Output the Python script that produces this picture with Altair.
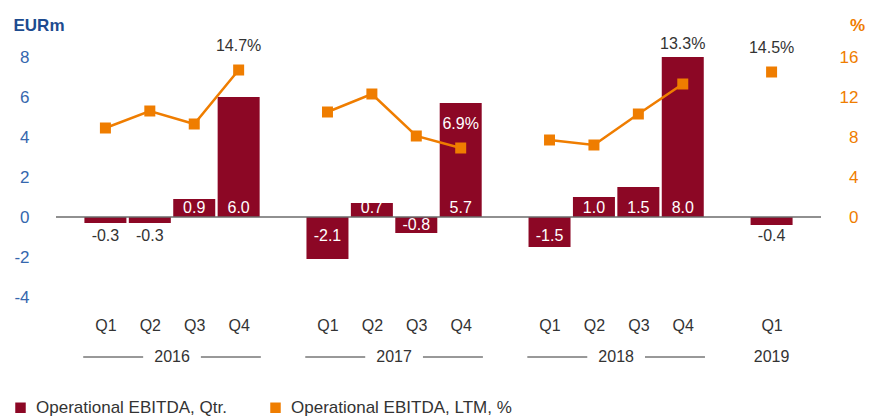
import altair as alt
import pandas as pd

# ---- data ----
years = ["2016", "2017", "2018", "2019"]
quarters = ["Q1", "Q2", "Q3", "Q4"]
quarters_per_year = [4, 4, 4, 1]
ebitda_qtr = [-0.3, -0.3, 0.9, 6.0, -2.1, 0.7, -0.8, 5.7, -1.5, 1.0, 1.5, 8.0, -0.4]
ebitda_ltm = [8.9, 10.6, 9.3, 14.7, 10.5, 12.3, 8.1, 6.9, 7.7, 7.2, 10.3, 13.3, 14.5]
ltm_labels = ["", "", "", "14.7%", "", "", "", "6.9%", "", "", "", "13.3%", "14.5%"]
left_ticks = [-4, -2, 0, 2, 4, 6, 8]
right_ticks = [0, 4, 8, 12, 16]
series_names = ["Operational EBITDA, Qtr.", "Operational EBITDA, LTM, %"]

BAR = "#8C0725"
ORANGE = "#EF7D00"
BLUE = "#3567AE"
DARKBLUE = "#1D4B8F"
TXT = "#333333"
FONT = "Liberation Sans"

W, H = 765, 240

rows = []
i = 0
for yi, yr in enumerate(years):
    for qi in range(quarters_per_year[yi]):
        rows.append({
            "year": yr,
            "quarter": quarters[qi],
            "slot": yi * 5 + qi,
            "qtr": ebitda_qtr[i],
            "ltm": ebitda_ltm[i],
            "ltm_label": ltm_labels[i],
            "s_bar": series_names[0],
            "s_ltm": series_names[1],
        })
        i += 1
df = pd.DataFrame(rows)
df["qtr_label"] = df["qtr"].map(lambda v: f"{v:.1f}")


def bar_label_y(v):
    if v > 0:
        return 0.45
    if -1 < v <= -0.5:
        return v / 2
    return -0.95


def bar_label_color(v):
    return "white" if (v > 0 or v <= -0.5) else TXT


df["qtr_ly"] = df["qtr"].map(bar_label_y)
df["qtr_lc"] = df["qtr"].map(bar_label_color)


def ltm_label_y(r):
    base = r["ltm"] + 2.4
    top = r["qtr"] * 2
    if top - 2 < base < top + 1.3:
        return top + 1.3
    return base


df["ltm_ly"] = df.apply(ltm_label_y, axis=1)
df["ltm_lc"] = df.apply(lambda r: "white" if 0 < r["ltm_ly"] < r["qtr"] * 2 else TXT, axis=1)
lab_df = df[df["ltm_label"] != ""]

# year labels and separator lines
yrows, segs = [], []
for yi, yr in enumerate(years):
    s = yi * 5
    e = s + quarters_per_year[yi] - 1
    c = (s + e) / 2
    yrows.append({"year": yr, "c": c})
    if e > s:
        segs.append({"a": s - 0.5, "b": c - 0.65})
        segs.append({"a": c + 0.65, "b": e + 0.5})
ydf = pd.DataFrame(yrows)
sdf = pd.DataFrame(segs)

xscale = alt.Scale(domain=[-1, 16], nice=False, zero=False)
lscale = alt.Scale(domain=[-4, 8], nice=False, zero=False)
rscale = alt.Scale(domain=[-8, 16], nice=False, zero=False)
cscale = alt.Scale(domain=series_names, range=[BAR, ORANGE])

x_axis = alt.Axis(
    values=[r["slot"] for r in rows],
    labelExpr="'Q' + (datum.value % 5 + 1)",
    title=None, domain=False, ticks=False, tickSize=0, grid=False,
    labelPadding=20, labelFontSize=16, labelColor=TXT, labelFont=FONT, labelFlush=False,
)
left_axis = alt.Axis(
    values=left_ticks, labelExpr="'' + datum.value",
    title="EURm", titleAngle=0, titleX=-43, titleY=-32,
    titleAlign="left", titleBaseline="middle", titleColor=DARKBLUE, titleFontSize=17,
    titleFontWeight="bold", titleFont=FONT,
    labelColor=BLUE, labelFontSize=17, labelFont=FONT, labelPadding=27,
    domain=False, ticks=False, grid=False,
)
right_axis = alt.Axis(
    values=right_ticks, orient="right", title="%", titleAngle=0, titleX=36, titleY=-32,
    titleAlign="center", titleBaseline="middle", titleColor=ORANGE, titleFontSize=17,
    titleFontWeight="bold", titleFont=FONT,
    labelColor=ORANGE, labelFontSize=17, labelFont=FONT, labelAlign="right", labelPadding=37,
    domain=False, ticks=False, grid=False,
)
legend = alt.Legend(
    title=None, orient="none", legendX=-44, legendY=342, direction="horizontal",
    symbolType="square", symbolSize=110, labelFontSize=17, labelFont=FONT,
    labelColor=TXT, labelOffset=7, columnPadding=40, padding=0, labelLimit=500,
    symbolStrokeWidth=0,
)

base = alt.Chart(df)

bars = base.mark_bar(size=42).encode(
    x=alt.X("slot:Q", scale=xscale, axis=x_axis),
    y=alt.Y("qtr:Q", scale=lscale, axis=left_axis),
    color=alt.Color("s_bar:N", scale=cscale, legend=legend),
)

zero = alt.Chart(pd.DataFrame({"z": [0]})).mark_rule(color="#6b6b6b", strokeWidth=1.5).encode(
    y=alt.Y("z:Q", scale=lscale, axis=left_axis),
    x=alt.value(0), x2=alt.value(W),
)

bar_text = base.mark_text(fontSize=16, font=FONT, baseline="middle").encode(
    x=alt.X("slot:Q", scale=xscale, axis=x_axis),
    y=alt.Y("qtr_ly:Q", scale=lscale, axis=left_axis),
    text="qtr_label:N",
    color=alt.Color("qtr_lc:N", scale=None, legend=None),
)

year_text = alt.Chart(ydf).mark_text(fontSize=16, font=FONT, color=TXT, baseline="middle").encode(
    x=alt.X("c:Q", scale=xscale, axis=x_axis),
    y=alt.value(300),
    text="year:N",
)

year_lines = alt.Chart(sdf).mark_rule(color=TXT, strokeWidth=1).encode(
    x=alt.X("a:Q", scale=xscale, axis=x_axis),
    x2="b:Q",
    y=alt.value(300),
)

left = alt.layer(bars, zero, bar_text, year_lines, year_text)

line = base.mark_line(color=ORANGE, strokeWidth=2.5).encode(
    x=alt.X("slot:Q", scale=xscale, axis=x_axis),
    y=alt.Y("ltm:Q", scale=rscale, axis=right_axis),
    detail="year:N",
)
pts = base.mark_point(shape="square", filled=True, size=121, opacity=1).encode(
    x=alt.X("slot:Q", scale=xscale, axis=x_axis),
    y=alt.Y("ltm:Q", scale=rscale, axis=right_axis),
    color=alt.Color("s_ltm:N", scale=cscale, legend=legend),
)
ltm_text = alt.Chart(lab_df).mark_text(fontSize=16, font=FONT, baseline="middle").encode(
    x=alt.X("slot:Q", scale=xscale, axis=x_axis),
    y=alt.Y("ltm_ly:Q", scale=rscale, axis=right_axis),
    text="ltm_label:N",
    color=alt.Color("ltm_lc:N", scale=None, legend=None),
)

right = alt.layer(line, pts, ltm_text)

chart = (
    alt.layer(left, right)
    .resolve_scale(y="independent")
    .properties(
        width=W, height=H,
        autosize=alt.AutoSizeParams(type="none"),
        padding={"left": 48, "top": 49, "right": 48, "bottom": 119},
    )
    .configure(font=FONT)
    .configure_view(strokeWidth=0, stroke="transparent")
)

chart.save("out.html", embed_options={"renderer": "svg", "actions": False})
